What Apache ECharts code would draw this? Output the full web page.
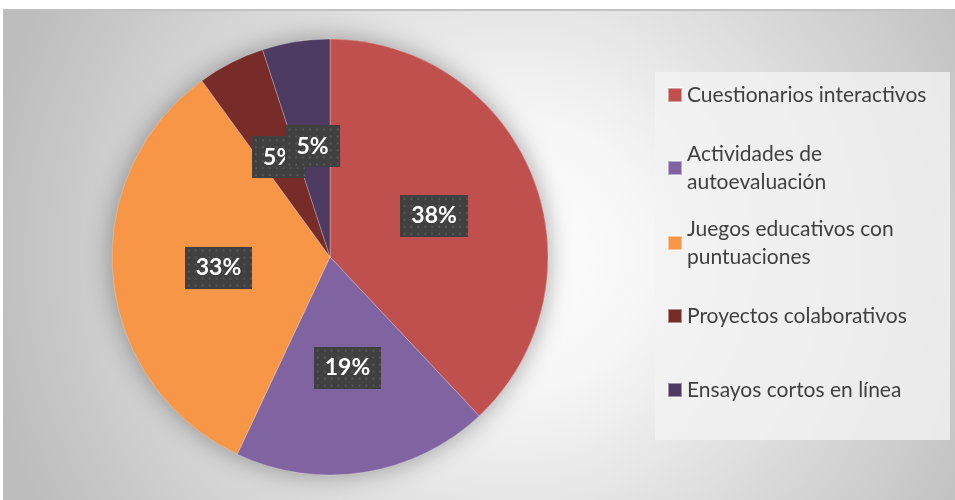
<!DOCTYPE html>
<html>
<head>
<meta charset="utf-8">
<script src="https://cdn.jsdelivr.net/npm/echarts@6/dist/echarts.min.js"></script>
<style>
  html, body { margin: 0; padding: 0; background: #fff; }
  #frame { position: absolute; left: 3px; top: 9px; width: 952px; height: 491px; border-top: 2px solid #c2c2c2; }
  #chart { width: 952px; height: 489px; }
</style>
</head>
<body>
<div id="frame"><div id="chart"></div></div>
<script>
var categories = ['Cuestionarios interactivos', 'Actividades de autoevaluación', 'Juegos educativos con puntuaciones', 'Proyectos colaborativos', 'Ensayos cortos en línea'];
var legendLabels = ['Cuestionarios interactivos', 'Actividades de\nautoevaluación', 'Juegos educativos con\npuntuaciones', 'Proyectos colaborativos', 'Ensayos cortos en línea'];
var values = [38, 19, 33, 5, 5];
var colors = ['#C0504D', '#8064A2', '#F79646', '#772C2A', '#4D3B62'];

var labelFont = 'bold 23px Lato';
var padX = 11, padY = 9, lineH = 24;

// dotted dark box drawn to the exact size of a label
function dottedBox(text) {
    var m = document.createElement('canvas').getContext('2d');
    m.font = labelFont;
    var w = Math.ceil(m.measureText(text).width) + padX * 2;
    var h = lineH + padY * 2;
    var c = document.createElement('canvas');
    c.width = w; c.height = h;
    var ctx = c.getContext('2d');
    ctx.fillStyle = '#404040';
    ctx.fillRect(0, 0, w, h);
    ctx.fillStyle = '#575757';
    for (var y = 3; y < h; y += 7) {
        for (var x = 3; x < w; x += 7) ctx.fillRect(x, y, 2, 2);
    }
    return c;
}

var myChart = echarts.init(document.getElementById('chart'));

var total = values.reduce(function (a, b) { return a + b; }, 0);
var center = [327, 246];
var radius = 218;

var legendTops = [70, 115, 190, 291, 365];
var legends = categories.map(function (name, i) {
    var twoLines = legendLabels[i].indexOf('\n') >= 0;
    return {
        left: 664,
        top: legendTops[i],
        orient: 'vertical',
        padding: 0,
        icon: 'rect',
        itemWidth: 14,
        itemHeight: 14,
        selectedMode: false,
        data: [{
            name: name,
            textStyle: twoLines ? { padding: [28, 0, 0, 0] } : {}
        }],
        formatter: function () { return legendLabels[i]; },
        textStyle: {
            color: '#404040',
            fontSize: 21,
            lineHeight: 28,
            fontFamily: 'Lato'
        }
    };
});

var pieData = categories.map(function (c, i) {
    var txt = Math.round(values[i] / total * 100) + '%';
    return {
        name: c,
        value: values[i],
        label: { backgroundColor: { image: dottedBox(txt) } }
    };
});

var option = {
    backgroundColor: {
        type: 'radial', x: 0.54, y: 0.5, r: 1.1,
        colorStops: [
            { offset: 0, color: '#ffffff' },
            { offset: 0.25, color: '#f6f6f6' },
            { offset: 1, color: '#bdbdbd' }
        ]
    },
    color: colors,
    legend: legends,
    graphic: [{
        type: 'rect',
        left: 652, top: 61, z: -1,
        shape: { width: 295, height: 368 },
        style: { fill: 'rgba(242,242,242,0.8)' },
        silent: true
    }],
    series: [{
        // soft shadow under the pie
        type: 'pie',
        silent: true,
        center: center,
        radius: radius,
        z: 1,
        label: { show: false },
        labelLine: { show: false },
        itemStyle: { color: '#999', shadowBlur: 26, shadowColor: 'rgba(0,0,0,0.35)' },
        emphasis: { disabled: true },
        data: [{ name: '', value: total }]
    }, {
        type: 'pie',
        center: center,
        radius: radius,
        startAngle: 90,
        clockwise: true,
        avoidLabelOverlap: false,
        labelLayout: { hideOverlap: false },
        z: 2,
        itemStyle: { borderColor: 'rgba(255,255,255,0.45)', borderWidth: 0.6 },
        label: {
            show: true,
            position: 'inside',
            formatter: function (p) { return Math.round(p.percent) + '%'; },
            color: '#fff',
            fontSize: 23,
            fontWeight: 'bold',
            fontFamily: 'Lato',
            lineHeight: lineH,
            padding: [padY, padX],
            shadowColor: 'rgba(0,0,0,0.45)',
            shadowBlur: 6,
            shadowOffsetX: 3,
            shadowOffsetY: 3
        },
        labelLine: { show: false },
        emphasis: { disabled: true },
        data: pieData
    }]
};
myChart.setOption(option);
window.addEventListener('resize', function () { myChart.resize(); });
</script>
</body>
</html>
